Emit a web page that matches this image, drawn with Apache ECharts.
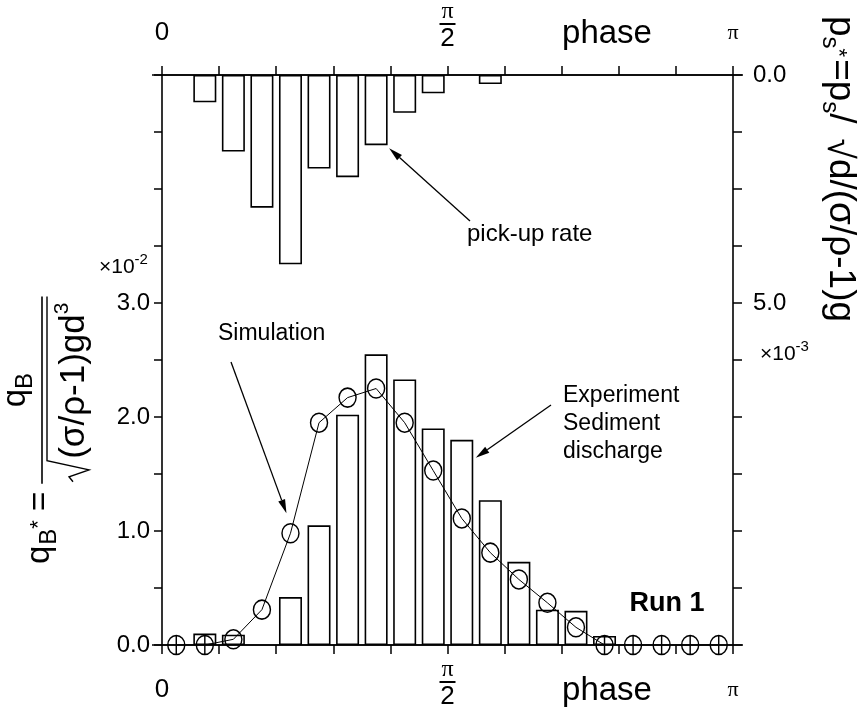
<!DOCTYPE html>
<html>
<head>
<meta charset="utf-8">
<script src="https://cdn.jsdelivr.net/npm/echarts@6/dist/echarts.min.js"></script>
<style>
  html, body { margin: 0; padding: 0; background: #fff; }
  #chart { width: 861px; height: 714px; }
</style>
</head>
<body>
<div id="chart"></div>
<script>
// Phase axis: half a wave period split into 20 bins of width π/20 (axis units = π/20)
const binCenters = [0.5, 1.5, 2.5, 3.5, 4.5, 5.5, 6.5, 7.5, 8.5, 9.5,
                    10.5, 11.5, 12.5, 13.5, 14.5, 15.5, 16.5, 17.5, 18.5, 19.5];

// Sediment discharge q_B* (×10^-2), measured
const dischargeExperiment = [0, 0.10, 0.09, 0, 0.42, 1.05, 2.02, 2.55, 2.33, 1.90,
                             1.80, 1.27, 0.73, 0.31, 0.30, 0.08, 0, 0, 0, 0];
// Sediment discharge q_B* (×10^-2), simulated
const dischargeSimulation = [0, 0, 0.05, 0.31, 0.98, 1.95, 2.17, 2.25, 1.95, 1.53,
                             1.11, 0.81, 0.575, 0.37, 0.155, 0, 0, 0, 0, 0];
// Pick-up rate p_s* (×10^-3), measured
const pickupRate = [0, 0.60, 1.68, 2.91, 4.15, 2.05, 2.24, 1.54, 0.83, 0.40,
                    0, 0.20, 0, 0, 0, 0, 0, 0, 0, 0];

// Tick labels
const leftTickLabels = ['0.0', '1.0', '2.0', '3.0'];   // at 0, 1, 2, 3
const rightTickLabels = ['0.0', '5.0'];                // at 0, 5

const FONT = '"Liberation Sans", Arial, Helvetica, sans-serif';
const SERIF = '"Liberation Serif", "Times New Roman", serif';

const CIRCLE_SYM = 'path://M10,0A10,10 0 1 1 10,20A10,10 0 1 1 10,0Z';
const PHI_SYM = 'path://M10,0A10,10 0 1 1 10,20A10,10 0 1 1 10,0ZM10,0L10,20';

const chart = echarts.init(document.getElementById('chart'));

// π/2 is stacked; its fraction bar is drawn as a graphic rect below
function phaseLabel(v) {
  if (v === 0) return '{z|0}';
  if (v === 10) return '{n|π}\n{gap| }\n{d|2}';
  if (v === 20) return '{pi|π}';
  return '';
}
function phaseRich(zl) {
  return {
    z: { fontSize: 26, fontFamily: FONT, color: '#000', lineHeight: zl },
    pi: { fontSize: 22, fontFamily: SERIF, color: '#000', lineHeight: zl },
    n: { fontSize: 24, fontFamily: SERIF, color: '#000', lineHeight: 18 },
    gap: { fontSize: 4, lineHeight: 6 },
    d: { fontSize: 26, fontFamily: FONT, color: '#000', lineHeight: 24 }
  };
}

const axisLineStyle = { color: '#000', width: 1.6 };

const pairs = (xs, ys) => xs.map((x, i) => [x, ys[i]]).filter(p => p[1] !== 0);

chart.setOption({
  animation: false,
  backgroundColor: '#fff',
  grid: { left: 162, right: 128, top: 74, bottom: 69, containLabel: false },
  xAxis: [
    {
      type: 'value', position: 'bottom', min: 0, max: 20, interval: 2,
      axisLine: { show: true, onZero: false, lineStyle: axisLineStyle },
      axisTick: { show: true, inside: false, length: 9, lineStyle: { color: '#000', width: 1.5 } },
      splitLine: { show: false },
      axisLabel: { margin: 16, formatter: phaseLabel, rich: phaseRich(58), showMinLabel: true, showMaxLabel: true }
    },
    {
      type: 'value', position: 'top', min: 0, max: 20, interval: 2,
      axisLine: { show: true, onZero: false, lineStyle: axisLineStyle },
      axisTick: { show: true, inside: false, length: 9, lineStyle: { color: '#000', width: 1.5 } },
      splitLine: { show: false },
      axisLabel: { margin: 24, formatter: phaseLabel, rich: phaseRich(36), showMinLabel: true, showMaxLabel: true }
    }
  ],
  yAxis: [
    {
      type: 'value', position: 'left', min: 0, max: 5, interval: 0.5,
      axisLine: { show: true, onZero: false, lineStyle: axisLineStyle },
      axisTick: { show: true, inside: false, length: 8, lineStyle: { color: '#000', width: 1.5 } },
      splitLine: { show: false },
      axisLabel: {
        margin: 12, fontSize: 24, fontFamily: FONT, color: '#000',
        formatter: v => (Number.isInteger(v) && v < leftTickLabels.length) ? leftTickLabels[v] : ''
      }
    },
    {
      type: 'value', position: 'right', min: 0, max: 12.5, interval: 1.25, inverse: true,
      axisLine: { show: true, onZero: false, lineStyle: axisLineStyle },
      axisTick: { show: true, inside: false, length: 9, lineStyle: { color: '#000', width: 1.5 } },
      splitLine: { show: false },
      axisLabel: {
        margin: 20, fontSize: 24, fontFamily: FONT, color: '#000',
        formatter: v => (v === 0 ? rightTickLabels[0] : (v === 5 ? rightTickLabels[1] : ''))
      }
    }
  ],
  series: [
    {
      name: 'Experiment', type: 'bar', xAxisIndex: 0, yAxisIndex: 0,
      data: pairs(binCenters, dischargeExperiment),
      barWidth: 23,
      itemStyle: { color: 'rgba(0,0,0,0)', borderColor: '#000', borderWidth: 1.6 },
      z: 2
    },
    {
      name: 'pick-up rate', type: 'bar', xAxisIndex: 1, yAxisIndex: 1,
      data: pairs(binCenters, pickupRate),
      barWidth: 23,
      itemStyle: { color: 'rgba(0,0,0,0)', borderColor: '#000', borderWidth: 1.6 },
      z: 2
    },
    {
      name: 'Simulation', type: 'line', xAxisIndex: 0, yAxisIndex: 0,
      data: dischargeSimulation.map((v, i) => ({
        value: [binCenters[i], v],
        symbol: v === 0 ? PHI_SYM : CIRCLE_SYM
      })),
      symbolSize: [17, 19],
      showAllSymbol: true,
      lineStyle: { color: '#000', width: 1 },
      itemStyle: { color: 'rgba(0,0,0,0)', borderColor: '#000', borderWidth: 1.5 },
      z: 3
    }
  ]
});

// ---- annotations, units and rotated axis titles ----
const cv = document.createElement('canvas').getContext('2d');
function textWidth(t, size, family, weight) {
  cv.font = (weight || 'normal') + ' ' + size + 'px ' + (family || FONT);
  return cv.measureText(t).width;
}
// Lay pieces of text along a baseline; each piece may shift its own baseline (by).
function runOfText(pieces, x0) {
  let x = x0;
  const out = [];
  pieces.forEach(p => {
    x += p.gap || 0;
    out.push({
      type: 'text', x: x, y: p.by - 0.31 * p.s,
      style: {
        text: p.t, fill: '#000', fontSize: p.s, fontFamily: p.f || FONT,
        fontWeight: p.w || 'normal', align: 'left', verticalAlign: 'middle'
      }
    });
    x += textWidth(p.t, p.s, p.f, p.w);
  });
  return { children: out, end: x };
}
function arrow(x1, y1, x2, y2) {
  const a = Math.atan2(y2 - y1, x2 - x1), L = 14, W = 3.6;
  const c = Math.cos(a), s = Math.sin(a);
  const bx = x2 - L * c, by = y2 - L * s;
  return [
    { type: 'line', shape: { x1: x1, y1: y1, x2: bx, y2: by }, style: { stroke: '#000', lineWidth: 1.3 } },
    { type: 'polygon', shape: { points: [[x2, y2], [bx - s * W, by + c * W], [bx + s * W, by - c * W]] }, style: { fill: '#000' } }
  ];
}

const px = (xi, yi, x, y) => chart.convertToPixel({ xAxisIndex: xi, yAxisIndex: yi }, [x, y]);

const graphics = [];

// axis lines run a little past the frame corners
const tl = px(0, 0, 0, 5), br = px(0, 0, 20, 0);
graphics.push({ type: 'line', shape: { x1: tl[0] - 10, y1: tl[1], x2: br[0] + 10, y2: tl[1] }, style: { stroke: '#000', lineWidth: 1.6 } });
graphics.push({ type: 'line', shape: { x1: tl[0] - 10, y1: br[1], x2: br[0] + 10, y2: br[1] }, style: { stroke: '#000', lineWidth: 1.6 } });

// fraction bars of the π/2 tick labels
const half = px(0, 0, 10, 0)[0];
[tl[1] - 52, br[1] + 36].forEach(yb => graphics.push({
  type: 'rect', z: 100, shape: { x: half - 8, y: yb, width: 16, height: 2 }, style: { fill: '#000' }
}));

// "phase" axis names
[34, 691].forEach(yc => graphics.push({
  type: 'text', x: 607, y: yc,
  style: { text: 'phase', fontSize: 33, fontFamily: FONT, fill: '#000', align: 'center', verticalAlign: 'middle' }
}));

// units
const u2 = runOfText([{ t: '×10', s: 21, by: 274 }, { t: '-2', s: 15, by: 265 }], 99);
graphics.push({ type: 'group', children: u2.children });
const u3 = runOfText([{ t: '×10', s: 21, by: 361 }, { t: '-3', s: 15, by: 352 }], 760);
graphics.push({ type: 'group', children: u3.children });

// series annotations
const pk = px(1, 1, binCenters[7], pickupRate[7]);
graphics.push({ type: 'text', x: 467, y: 234, style: { text: 'pick-up rate', fontSize: 24, fontFamily: FONT, fill: '#000', verticalAlign: 'middle' } });
graphics.push(...arrow(470, 221, pk[0] + 13, pk[1] + 3));

const sm = px(0, 0, binCenters[4], dischargeSimulation[4]);
graphics.push({ type: 'text', x: 218, y: 334, style: { text: 'Simulation', fontSize: 23, fontFamily: FONT, fill: '#000', verticalAlign: 'middle' } });
graphics.push(...arrow(231, 362, sm[0] - 4, sm[1] - 20));

const ex = px(0, 0, binCenters[10], dischargeExperiment[10]);
graphics.push({ type: 'text', x: 563, y: 424, style: { text: 'Experiment\nSediment\ndischarge', fontSize: 23, lineHeight: 28, fontFamily: FONT, fill: '#000', verticalAlign: 'middle' } });
graphics.push(...arrow(551, 405, ex[0] + 14, ex[1] + 18));

graphics.push({ type: 'text', x: 667, y: 604, style: { text: 'Run 1', fontSize: 27, fontWeight: 'bold', fontFamily: FONT, fill: '#000', align: 'center', verticalAlign: 'middle' } });

// left title: q_B* = q_B / sqrt((σ/ρ-1) g d^3), reading bottom to top
(function () {
  const kids = [];
  const row = runOfText([
    { t: 'q', s: 33, by: 8 },
    { t: 'B', s: 24, by: 15, gap: 1 },
    { t: '*', s: 22, by: 4 },
    { t: '=', s: 33, by: 9, gap: 9 }
  ], 4);
  kids.push(...row.children);
  const f0 = row.end + 8;                 // fraction starts here
  const sq0 = f0 + 2;
  const den = runOfText([
    { t: '(σ/ρ-1)gd', s: 35, by: 43 },
    { t: '3', s: 21, by: 27 }
  ], sq0 + 23);
  kids.push(...den.children);
  const f1 = den.end + 6;
  // radical sign with its bar
  kids.push({ type: 'polyline', shape: { points: [[sq0, 31], [sq0 + 5, 27], [sq0 + 12, 47], [sq0 + 21, 5], [f1, 5]] },
              style: { stroke: '#000', lineWidth: 1.4, fill: null } });
  // fraction bar
  kids.push({ type: 'line', shape: { x1: f0, y1: 0, x2: f1, y2: 0 }, style: { stroke: '#000', lineWidth: 1.6 } });
  // numerator
  const numW = textWidth('q', 33) + textWidth('B', 24);
  const num = runOfText([{ t: 'q', s: 33, by: -16 }, { t: 'B', s: 24, by: -9 }], (f0 + f1) / 2 - numW / 2);
  kids.push(...num.children);
  graphics.push({ type: 'group', x: 42, y: 568, rotation: Math.PI / 2, children: kids });
})();

// right title: p_s* = p_s / sqrt(d/(σ/ρ-1)g), reading top to bottom
(function () {
  const r = runOfText([
    { t: 'p', s: 37, by: 0 },
    { t: 's', s: 24, by: 7 },
    { t: '*', s: 22, by: -2 },
    { t: '=', s: 37, by: 0, gap: 2 },
    { t: 'p', s: 37, by: 0 },
    { t: 's', s: 24, by: 7 },
    { t: '/', s: 37, by: 0 },
    { t: '√', s: 37, by: 2, gap: 15 },
    { t: 'd/(σ/ρ-1)g', s: 37, by: 0 }
  ], 0);
  graphics.push({ type: 'group', x: 829, y: 16, rotation: -Math.PI / 2, children: r.children });
})();

chart.setOption({ graphic: graphics });
</script>
</body>
</html>
